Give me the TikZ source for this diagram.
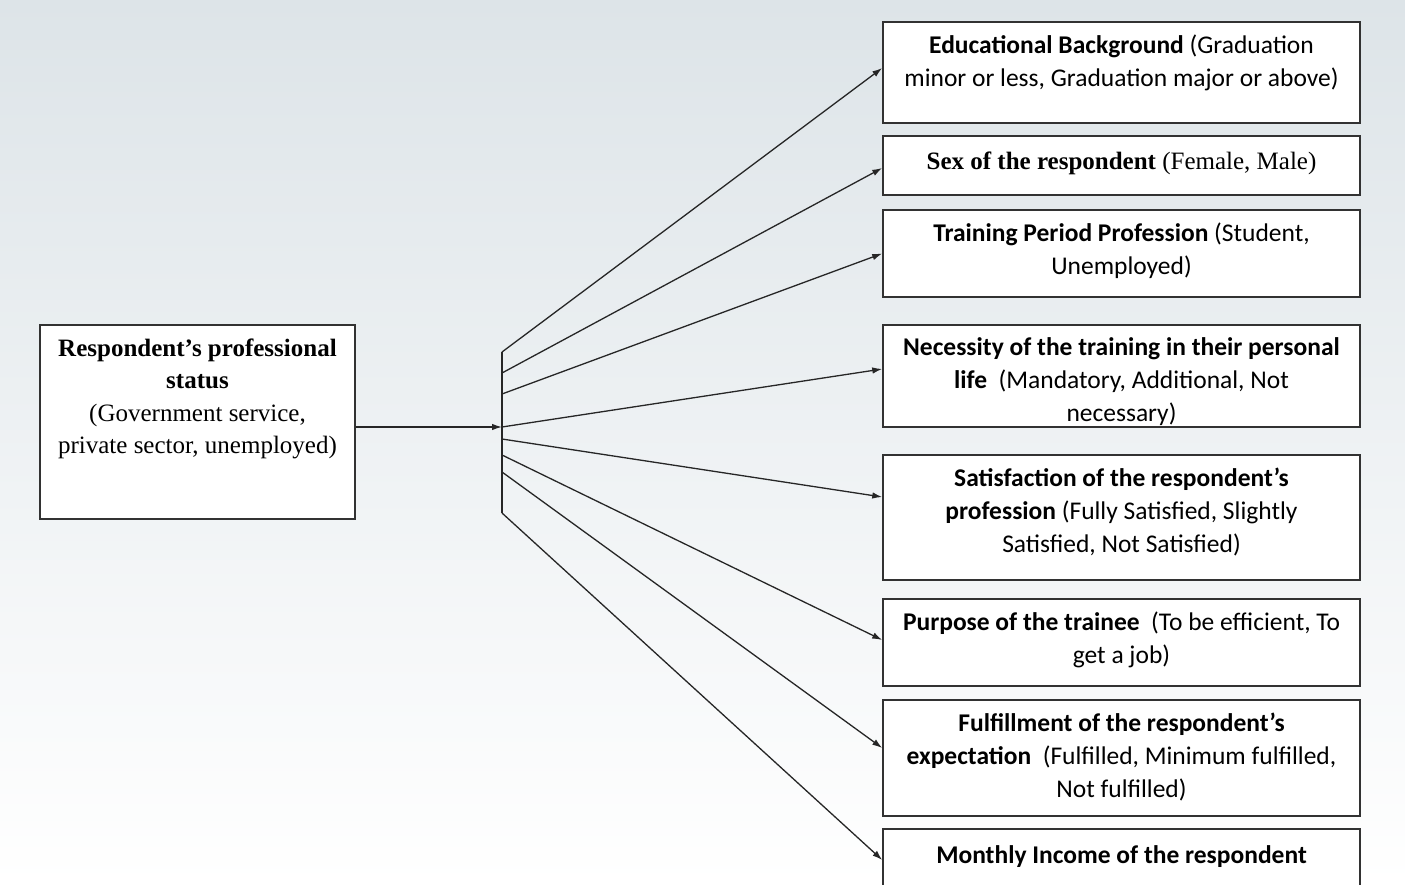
\documentclass[tikz,border=0pt]{standalone}
\usepackage{fontspec}
\usetikzlibrary{arrows.meta}
\newfontfamily\sansf{Carlito}
\newfontfamily\seriff{Liberation Serif}
\definecolor{bgtop}{RGB}{221,228,232}
\definecolor{bgmid}{RGB}{240,242,244}
\definecolor{boxline}{RGB}{50,50,50}
\tikzset{
  box/.style={draw=boxline, line width=1.5pt, fill=white, rectangle, inner sep=0pt, minimum width=477pt},
  conn/.style={line width=1.3pt, draw=black!85, -{Latex[length=10pt,width=6.5pt]}},
  plain/.style={line width=1.3pt, draw=black!85},
  stxt/.style={font=\sansf\fontsize{25.5}{33}\selectfont, align=center, anchor=north, inner sep=0pt},
  rtxt/.style={font=\seriff\fontsize{25}{32.5}\selectfont, align=center, anchor=north, inner sep=0pt},
}
\begin{document}
\begin{tikzpicture}[x=1pt,y=-1pt]
\useasboundingbox (0,0) rectangle (1405,885);
\shade[top color=bgtop, middle color=bgmid, bottom color=white] (0,0) rectangle (1405,885);

% source box
\node[box, minimum width=315pt, minimum height=194pt] (src) at (197.5,422) {};
\node[rtxt] (srct) at ([yshift=-14pt]src.north) {\textbf{Respondent’s professional}\\\textbf{status}\\(Government service,\\private sector, unemployed)};

% target boxes
\node[box, minimum height=101pt] (b1) at (1121.5,72.5) {};
\node[box, minimum height=59pt] (b2) at (1121.5,165.5) {};
\node[box, minimum height=87pt] (b3) at (1121.5,253.5) {};
\node[box, minimum height=102pt] (b4) at (1121.5,376) {};
\node[box, minimum height=125pt] (b5) at (1121.5,517.5) {};
\node[box, minimum height=87pt] (b6) at (1121.5,642.5) {};
\node[box, minimum height=116pt] (b7) at (1121.5,758) {};
\node[box, minimum height=112pt] (b8) at (1121.5,885) {};

\node[stxt] (t1) at ([yshift=-13pt]b1.north) {\textbf{Educational Background} (Graduation\\minor or less, Graduation major or above)};
\node[rtxt] (t2) at ([yshift=-16pt]b2.north) {\textbf{Sex of the respondent} (Female, Male)};
\node[stxt] (t3) at ([yshift=-13pt]b3.north) {\textbf{Training Period Profession} (Student,\\Unemployed)};
\node[stxt] (t4) at ([yshift=-13pt]b4.north) {\textbf{Necessity of the training in their personal}\\\textbf{life} \ (Mandatory, Additional, Not\\necessary)};
\node[stxt] (t5) at ([yshift=-13pt]b5.north) {\textbf{Satisfaction of the respondent’s}\\\textbf{profession} (Fully Satisfied, Slightly\\Satisfied, Not Satisfied)};
\node[stxt] (t6) at ([yshift=-13pt]b6.north) {\textbf{Purpose of the trainee} \ (To be efficient, To\\get a job)};
\node[stxt] (t7) at ([yshift=-13pt]b7.north) {\textbf{Fulfillment of the respondent’s}\\\textbf{expectation} \ (Fulfilled, Minimum fulfilled,\\Not fulfilled)};
\node[stxt] (t8) at ([yshift=-17pt]b8.north) {\textbf{Monthly Income of the respondent}};

% junction
\coordinate (j1) at (502,352);
\coordinate (j2) at (502,373);
\coordinate (j3) at (502,394);
\coordinate (j4) at (502,427);
\coordinate (j5) at (502,439);
\coordinate (j6) at (502,455);
\coordinate (j7) at (502,472);
\coordinate (j8) at (502,513);
\draw[plain] (j1) -- (j8);
\draw[conn] ([yshift=-5pt]src.east) -- (j4);

\draw[conn] (j1) -- ([yshift=4.5pt]b1.west);
\draw[conn] (j2) -- ([yshift=-2.5pt]b2.west);
\draw[conn] (j3) -- (b3.west);
\draw[conn] (j4) -- ([yshift=7pt]b4.west);
\draw[conn] (j5) -- ([yshift=20.5pt]b5.west);
\draw[conn] (j6) -- ([yshift=2.5pt]b6.west);
\draw[conn] (j7) -- ([yshift=10pt]b7.west);
\draw[conn] (j8) -- ([yshift=25pt]b8.west);
\end{tikzpicture}
\end{document}
